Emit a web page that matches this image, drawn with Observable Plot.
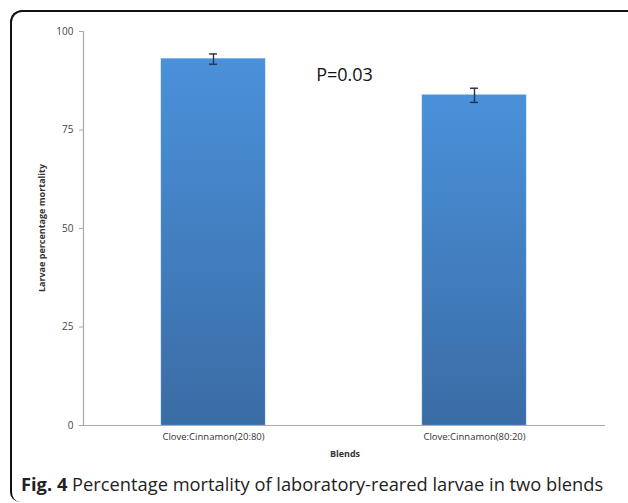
<!DOCTYPE html>
<html>
<head>
<meta charset="utf-8">
<script src="https://cdn.jsdelivr.net/npm/d3@7"></script>
<script src="https://cdn.jsdelivr.net/npm/@observablehq/plot@0.6"></script>
<style>
  html, body { margin: 0; padding: 0; background: #fff; }
  #page { position: relative; width: 628px; height: 503px; overflow: hidden; }
  #frame { position: absolute; left: 10px; top: 10px; width: 640px; height: 490px;
           border-top: 2px solid #111; border-left: 2px solid #111;
           border-top-left-radius: 12px; border-bottom-left-radius: 10px; }
  #chart { position: absolute; left: 0; top: 0; }
  #caption { position: absolute; left: 21px; top: 471px; font-family: "Open Sans", sans-serif;
             font-size: 18.3px; color: #222; white-space: nowrap; }
  #caption b { font-weight: 700; }
</style>
</head>
<body>
<div id="page">
  <div id="frame"></div>
  <div id="chart"></div>
  <div id="caption"><b>Fig. 4</b> Percentage mortality of laboratory-reared larvae in two blends</div>
</div>
<script>
const categories = ["Clove:Cinnamon(20:80)", "Clove:Cinnamon(80:20)"];
const mortality = [93.0, 83.8];
const errors = [1.3, 1.8];
const yTicks = [0, 25, 50, 75, 100];
const pLabel = "P=0.03";
const pLabelY = 89;

const data = categories.map((c, i) => ({blend: c, value: mortality[i], lo: mortality[i] - errors[i], hi: mortality[i] + errors[i]}));

const plot = Plot.plot({
  width: 628,
  height: 463,
  marginLeft: 83,
  marginRight: 23,
  marginTop: 31,
  marginBottom: 38,
  style: {fontFamily: "'Open Sans', sans-serif", fontSize: "9.5px", color: "#444", background: "transparent"},
  x: {domain: categories, paddingInner: 0.6, paddingOuter: 0.3, label: null},
  y: {domain: [0, 100], ticks: yTicks, label: null},
  marks: [
    Plot.barY(data, {x: "blend", y: "value", fill: "url(#barGrad)", stroke: "#5b9be0", strokeWidth: 0.5}),
    Plot.ruleX(data, {x: "blend", y1: "lo", y2: "hi", stroke: "#263445", strokeWidth: 1.4}),
    Plot.tickY(data, {x: "blend", y: "lo", stroke: "#263445", strokeWidth: 1.4, insetLeft: 48, insetRight: 48}),
    Plot.tickY(data, {x: "blend", y: "hi", stroke: "#263445", strokeWidth: 1.4, insetLeft: 48, insetRight: 48}),
    Plot.frame({anchor: "left", stroke: "#aaa", strokeWidth: 1.2}),
    Plot.ruleY([0], {stroke: "#aaa", strokeWidth: 1.2}),
    Plot.axisY({ticks: yTicks, tickSize: 4, tickPadding: 6, stroke: "#aaa", fill: "#444", fontSize: 10, label: null}),
    Plot.axisX({tickSize: 0, tickPadding: 8, fill: "#333", fontSize: 9.5, label: null}),
    Plot.text([pLabel], {frameAnchor: "middle", y: () => pLabelY, text: d => d, fontSize: 18, fill: "#111", fontFamily: "'Open Sans', sans-serif"})
  ]
});

// gradient definition for bars
const ns = "http://www.w3.org/2000/svg";
const defs = document.createElementNS(ns, "defs");
defs.innerHTML = '<linearGradient id="barGrad" x1="0" y1="0" x2="0" y2="1"><stop offset="0" stop-color="#4a91da"/><stop offset="1" stop-color="#3a6ca5"/></linearGradient>';
plot.insertBefore(defs, plot.firstChild);

// axis titles
const yt = document.createElementNS(ns, "text");
yt.setAttribute("transform", "translate(45,228) rotate(-90)");
yt.setAttribute("text-anchor", "middle");
yt.setAttribute("font-size", "9");
yt.setAttribute("font-weight", "bold");
yt.setAttribute("fill", "#333");
yt.textContent = "Larvae percentage mortality";
plot.appendChild(yt);

const xt = document.createElementNS(ns, "text");
xt.setAttribute("x", "345");
xt.setAttribute("y", "457");
xt.setAttribute("text-anchor", "middle");
xt.setAttribute("font-size", "9");
xt.setAttribute("font-weight", "bold");
xt.setAttribute("fill", "#333");
xt.textContent = "Blends";
plot.appendChild(xt);

document.getElementById("chart").appendChild(plot);
</script>
</body>
</html>
